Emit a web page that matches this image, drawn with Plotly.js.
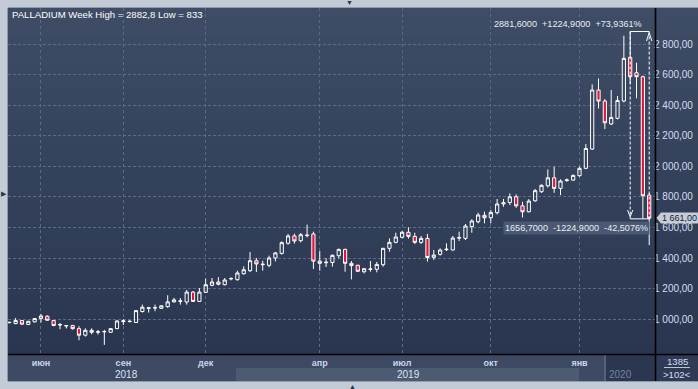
<!DOCTYPE html>
<html>
<head>
<meta charset="utf-8">
<script src="https://cdn.plot.ly/plotly-3.0.1.min.js"></script>
<style>
html,body{margin:0;padding:0;background:#c3cbd7;}
#chart{width:698px;height:389px;}
</style>
</head>
<body>
<div id="chart"></div>
<script>
// ---- DATA (weekly PALLADIUM candles) ----
const open  = [978,972,992,966,983,1005,1020,992,963,956,959,939,896,928,916,918,915,939,985,985,
               979,1051,1071,1074,1072,1083,1114,1117,1113,1178,1117,1176,1222,1244,1226,1264,1259,1298,1318,1383,
               1357,1353,1401,1431,1497,1545,1514,1547,1558,1381,1370,1371,1416,1457,1366,1353,1311,1326,1327,1357,
               1464,1503,1536,1569,1542,1503,1529,1405,1425,1455,1453,1531,1529,1606,1638,1680,1664,1697,1754,1764,
               1801,1742,1703,1775,1834,1873,1925,1856,1907,1910,1939,1987,2113,2499,2427,2277,2314,2427,2713,2612,
               2586,1812];
const high  = [984,1009,995,990,1008,1035,1026,995,976,963,964,955,941,941,931,931,942,995,1000,993,
               1060,1096,1081,1096,1092,1157,1140,1139,1192,1185,1205,1266,1270,1276,1270,1274,1318,1346,1440,1401,
               1383,1416,1440,1510,1558,1560,1564,1619,1573,1446,1400,1425,1462,1462,1381,1357,1335,1381,1375,1467,
               1529,1566,1577,1601,1566,1545,1558,1453,1464,1497,1545,1573,1623,1654,1697,1704,1715,1787,1787,1823,
               1817,1769,1786,1852,1882,1980,1998,1915,1921,1947,1998,2146,2536,2575,2440,2499,2460,2854,2882.8,2678,
               2592,1823];
const low   = [974,968,966,962,980,979,990,955,935,940,932,863,887,902,900,833,912,936,963,980,
               976,1044,1044,1053,1068,1075,1110,1096,1096,1113,1115,1172,1216,1222,1222,1255,1253,1292,1309,1309,
               1318,1340,1379,1423,1488,1495,1503,1536,1329,1318,1342,1344,1398,1311,1261,1309,1300,1311,1307,1344,
               1442,1497,1529,1527,1492,1492,1377,1388,1416,1446,1449,1512,1518,1566,1627,1627,1627,1686,1736,1747,
               1729,1666,1699,1769,1827,1862,1827,1812,1899,1906,1932,1982,2107,2379,2244,2270,2307,2418,2540,2445,
               1656.7,1485];
const close = [980,992,968,987,1005,1022,994,959,965,959,939,896,928,915,918,920,939,989,990,987,
               1057,1079,1075,1076,1088,1114,1127,1120,1178,1117,1178,1226,1244,1229,1257,1267,1303,1324,1383,1362,
               1360,1401,1434,1501,1545,1512,1553,1550,1380,1366,1373,1418,1457,1366,1351,1314,1331,1329,1359,1464,
               1503,1538,1569,1542,1503,1529,1404,1420,1453,1458,1531,1534,1610,1643,1682,1664,1699,1754,1762,1801,
               1742,1703,1773,1841,1876,1925,1856,1904,1911,1941,1987,2117,2499,2427,2285,2320,2431,2706,2586,2586,
               1808,1661];

const monthTickIdx = [5, 18, 31, 49, 62, 76, 90];
const monthLabels  = ['июн', 'сен', 'дек', 'апр', 'июл', 'окт', 'янв'];
const yearLabels   = ['2018', '2019', '2020'];
const priceTicks   = [1000, 1200, 1400, 1600, 1800, 2000, 2200, 2400, 2600, 2800];

const titleText   = 'PALLADIUM Week High = 2882,8 Low = 833';
const measureTop  = 2881.6;
const measureBot  = 1656.7;
const measureFromIdx = 98;
const measureToIdx   = 101;
const measureTopText = '2881,6000&nbsp; +1224,9000&nbsp; +73,9361%';
const measureBotText = '1656,7000&nbsp; -1224,9000&nbsp; -42,5076%';
const lastPriceText  = '1 661,00';
const barsInfo = ['1385', '>102<'];

// ---- layout helpers (pixel -> paper) ----
const W = 698, H = 389;
const PL = 8, PR = 655, PT = 8, PB = 354;
const X = px => (px - PL) / (PR - PL);
const Y = py => (PB - py) / (PB - PT);
const idx = open.map((_, i) => i);

const FONT = 'Liberation Sans, Arial, sans-serif';

const shapes = [];
// gradient background for plot + right axis column (strips overlap to avoid seams)
const N = 36;
const c0 = [62, 76, 102], c1 = [42, 54, 80];
const sh = (PB - PT) / N;
for (let i = 0; i < N; i++) {
  const t = i / (N - 1);
  const c = c0.map((v, k) => Math.round(v + (c1[k] - v) * t));
  shapes.push({type:'rect', xref:'paper', yref:'paper', layer:'below',
    x0: X(PL), x1: X(W + 2), y0: Y(PT + sh * i), y1: Y(Math.min(PB, PT + sh * (i + 1) + 2)),
    line:{width:0}, fillcolor:`rgb(${c[0]},${c[1]},${c[2]})`});
}
// bottom time strip
shapes.push({type:'rect', xref:'paper', yref:'paper', layer:'below', x0:X(PL), x1:X(PR), y0:Y(381), y1:Y(PB), line:{width:0}, fillcolor:'#3e4a63'});
shapes.push({type:'rect', xref:'paper', yref:'paper', layer:'below', x0:X(236), x1:X(579), y0:Y(381), y1:Y(368), line:{width:0}, fillcolor:'#4c5a72'});
shapes.push({type:'rect', xref:'paper', yref:'paper', layer:'below', x0:X(604), x1:X(PR), y0:Y(381), y1:Y(PB), line:{width:0}, fillcolor:'#2b3750'});
shapes.push({type:'line', xref:'paper', yref:'paper', layer:'below', x0:X(605), x1:X(605), y0:Y(381), y1:Y(PB+1), line:{width:2, color:'#55627a'}});
shapes.push({type:'rect', xref:'paper', yref:'paper', layer:'below', x0:X(PR), x1:X(W + 2), y0:Y(381), y1:Y(PB), line:{width:0}, fillcolor:'#2f3b55'});
shapes.push({type:'line', xref:'paper', yref:'paper', layer:'above', x0:X(664), x1:X(690), y0:Y(367.5), y1:Y(367.5), line:{width:1, color:'#b8c4d8'}});
// frame borders
shapes.push({type:'line', xref:'paper', yref:'paper', layer:'above', x0:X(PL), x1:X(W + 2), y0:Y(PB + 0.5), y1:Y(PB + 0.5), line:{width:1.6, color:'#000000'}});
shapes.push({type:'line', xref:'paper', yref:'paper', layer:'above', x0:X(PR + 0.5), x1:X(PR + 0.5), y0:Y(PT), y1:Y(381), line:{width:1.6, color:'#000000'}});
shapes.push({type:'line', xref:'paper', yref:'paper', layer:'above', x0:X(PL - 0.5), x1:X(PL - 0.5), y0:Y(PT), y1:Y(381), line:{width:1, color:'#8f9bad'}});
shapes.push({type:'line', xref:'paper', yref:'paper', layer:'above', x0:X(PL), x1:X(W + 2), y0:Y(PT - 0.5), y1:Y(PT - 0.5), line:{width:1, color:'#8f9bad'}});
shapes.push({type:'line', xref:'paper', yref:'paper', layer:'above', x0:X(PL), x1:X(W + 2), y0:Y(381.5), y1:Y(381.5), line:{width:1, color:'#8f9bad'}});

// measurement bracket
const wl = {color:'#ffffff', width:1};
const wd = {color:'#ffffff', width:1, dash:'3px,2px'};
shapes.push({type:'line', xref:'x', yref:'y', x0:measureFromIdx, x1:measureToIdx, y0:measureTop, y1:measureTop, line:wl});
shapes.push({type:'line', xref:'x', yref:'y', x0:measureFromIdx, x1:measureToIdx, y0:measureBot, y1:measureBot, line:wl});
shapes.push({type:'line', xref:'x', yref:'y', x0:measureFromIdx, x1:measureFromIdx, y0:measureTop, y1:measureBot, line:wd});
shapes.push({type:'line', xref:'x', yref:'y', x0:measureToIdx, x1:measureToIdx, y0:measureTop, y1:measureBot, line:wd});
shapes.push({type:'path', xref:'x', yref:'y', line:wl,
  path:`M ${measureToIdx-0.42} ${measureTop-62} L ${measureToIdx} ${measureTop-8} L ${measureToIdx+0.42} ${measureTop-62}`});
shapes.push({type:'path', xref:'x', yref:'y', line:wl,
  path:`M ${measureFromIdx-0.42} ${measureBot+58} L ${measureFromIdx} ${measureBot+14} L ${measureFromIdx+0.42} ${measureBot+58}`});
// last price tag
shapes.push({type:'path', xref:'paper', yref:'paper', layer:'above', fillcolor:'#c5cdd9', line:{width:0},
  path:`M ${X(656.5)} ${Y(218)} L ${X(661)} ${Y(212.5)} L ${X(W+2)} ${Y(212.5)} L ${X(W+2)} ${Y(223.5)} L ${X(661)} ${Y(223.5)} Z`});

const af = (size, color, extra) => Object.assign({family:FONT, size:size, color:color}, extra || {});
const annotations = [
  {xref:'paper', yref:'paper', x:X(10), y:Y(14.5), xanchor:'left', yanchor:'middle', showarrow:false, text:titleText, font:af(9.6,'#ffffff')},
  {xref:'paper', yref:'paper', x:X(492), y:Y(24), xanchor:'left', yanchor:'middle', showarrow:false, text:measureTopText, font:af(9.1,'#e8edf5')},
  {xref:'paper', yref:'paper', x:X(503), y:Y(227.7), xanchor:'left', yanchor:'middle', showarrow:false, text:measureBotText, font:af(9.1,'#e8edf5'), bgcolor:'#4a5873', borderpad:1},
  {xref:'paper', yref:'paper', x:X(660), y:Y(218), xanchor:'left', yanchor:'middle', showarrow:false, text:lastPriceText, font:af(9,'#17223a')},
  {xref:'paper', yref:'paper', x:X(126), y:Y(374), xanchor:'center', yanchor:'middle', showarrow:false, text:yearLabels[0], font:af(10,'#dbe4f2')},
  {xref:'paper', yref:'paper', x:X(408), y:Y(374), xanchor:'center', yanchor:'middle', showarrow:false, text:yearLabels[1], font:af(10,'#dbe4f2')},
  {xref:'paper', yref:'paper', x:X(607), y:Y(374.5), xanchor:'left', yanchor:'middle', showarrow:false, text:yearLabels[2], font:af(10,'#76839a')},
  {xref:'paper', yref:'paper', x:X(677), y:Y(361), xanchor:'center', yanchor:'middle', showarrow:false, text:barsInfo[0], font:af(9.6,'#d3def0')},
  {xref:'paper', yref:'paper', x:X(677), y:Y(374.5), xanchor:'center', yanchor:'middle', showarrow:false, text:barsInfo[1].replace('<','&lt;').replace('>','&gt;'), font:af(9.6,'#d3def0')},
  {xref:'paper', yref:'paper', x:X(349), y:Y(3), xanchor:'center', yanchor:'middle', showarrow:false, text:'▼', font:af(7,'#2a3447')},
  {xref:'paper', yref:'paper', x:X(352), y:Y(386), xanchor:'center', yanchor:'middle', showarrow:false, text:'▲', font:af(7,'#2a3447')},
  {xref:'paper', yref:'paper', x:X(3.5), y:Y(193), xanchor:'center', yanchor:'middle', showarrow:false, text:'▶', font:af(7,'#2a3447')}
];

const trace = {
  type:'candlestick', x: idx, open: open, high: high, low: low, close: close,
  increasing:{line:{color:'#ffffff', width:1}, fillcolor:'rgba(0,0,0,0)'},
  decreasing:{line:{color:'#ffffff', width:1}, fillcolor:'#e0163b'},
  whiskerwidth:0, hoverinfo:'skip', showlegend:false
};

const pxPerIdx = (649.2 - 9.3) / 101;
const x0 = -(9.3 - PL) / pxPerIdx;
const x1 = x0 + (PR - PL) / pxPerIdx;
const vPerPx = 1800 / (319.3 - 44);
const y1 = 2800 + (44 - PT) * vPerPx;
const y0 = 2800 - (PB - 44) * vPerPx;

const gridc = '#5b6a86';
const layout = {
  width:W, height:H,
  margin:{l:PL, r:W-PR, t:PT, b:H-PB, pad:0},
  paper_bgcolor:'#c3cbd7', plot_bgcolor:'rgba(0,0,0,0)',
  separators:', ',
  showlegend:false,
  boxgap:0.28,
  xaxis:{type:'linear', range:[x0, x1], rangeslider:{visible:false}, fixedrange:true,
    tickmode:'array', tickvals:monthTickIdx, ticktext:monthLabels,
    showgrid:true, gridcolor:gridc, griddash:'3px,3px', gridwidth:1, zeroline:false, showline:false, ticks:'',
    tickfont:{family:FONT, size:9, color:'#c9d5ea', weight:'bold'}, ticklabelstandoff:2},
  yaxis:{type:'linear', range:[y0, y1], side:'right', fixedrange:true,
    tickmode:'array', tickvals:priceTicks, tickformat:',.2f',
    showgrid:true, gridcolor:gridc, griddash:'3px,2px', gridwidth:1, zeroline:false, showline:false, ticks:'',
    tickfont:{family:FONT, size:10, color:'#d3def0'}, ticklabelstandoff:-2},
  shapes:shapes, annotations:annotations
};

Plotly.newPlot('chart', [trace], layout, {staticPlot:true, displayModeBar:false});
</script>
</body>
</html>
